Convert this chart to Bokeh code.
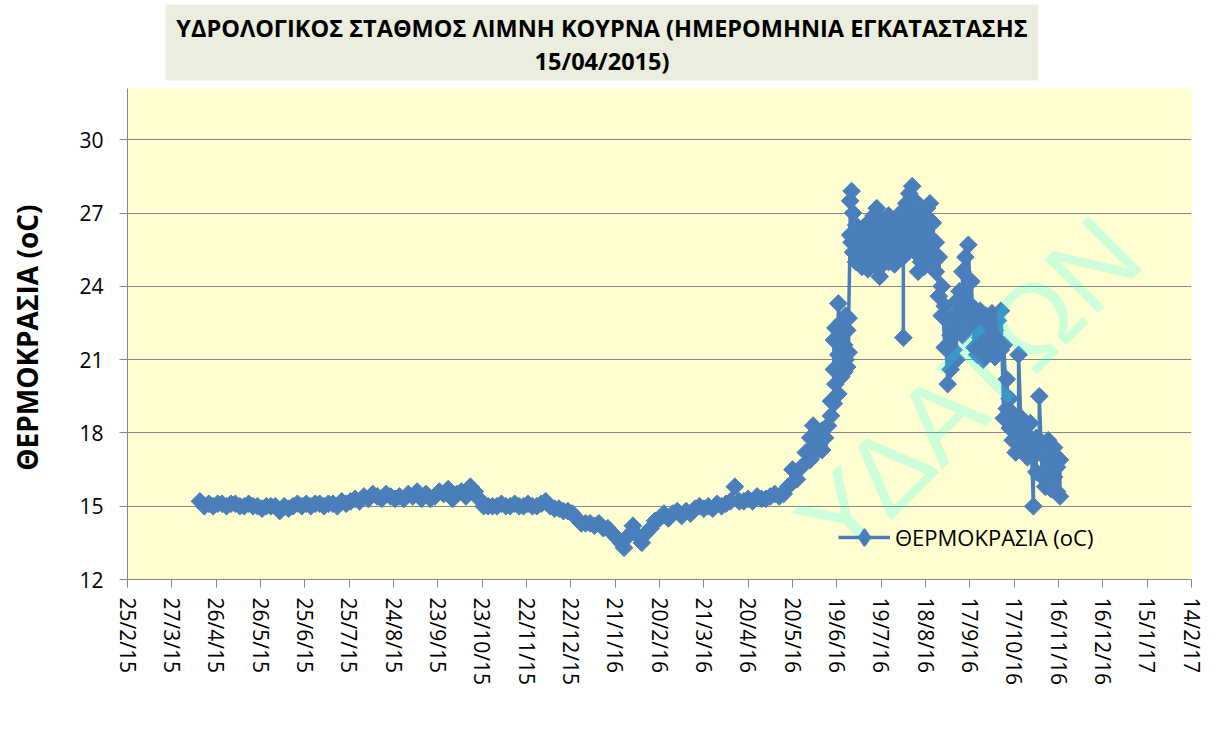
import datetime as dt
from math import radians

from bokeh.plotting import figure
from bokeh.layouts import column
from bokeh.models import (Range1d, FixedTicker, Legend, LegendItem, Label,
                          ColumnDataSource)
from bokeh.core.properties import value
from bokeh.embed import file_html
from bokeh.resources import INLINE

# ---------------- texts ----------------
title_lines = ["ΥΔΡΟΛΟΓΙΚΟΣ ΣΤΑΘΜΟΣ ΛΙΜΝΗ ΚΟΥΡΝΑ (ΗΜΕΡΟΜΗΝΙΑ ΕΓΚΑΤΑΣΤΑΣΗΣ",
               "15/04/2015)"]
y_label = "ΘΕΡΜΟΚΡΑΣΙΑ  (oC)"
series_name = "ΘΕΡΜΟΚΡΑΣΙΑ (oC)"
watermark = "ΥΔΑΤΩΝ"

x_tick_labels = ["25/2/15", "27/3/15", "26/4/15", "26/5/15", "25/6/15", "25/7/15",
                 "24/8/15", "23/9/15", "23/10/15", "22/11/15", "22/12/15", "21/1/16",
                 "20/2/16", "21/3/16", "20/4/16", "20/5/16", "19/6/16", "19/7/16",
                 "18/8/16", "17/9/16", "17/10/16", "16/11/16", "16/12/16", "15/1/17",
                 "14/2/17"]
y_ticks = [12, 15, 18, 21, 24, 27, 30]
y_min, y_max = 12, 32.1

# ---------------- data ----------------
dates_2015 = [
    "2015-04-15", "2015-04-18", "2015-04-21", "2015-04-24", "2015-04-27", "2015-04-30",
    "2015-05-03", "2015-05-06", "2015-05-09", "2015-05-12", "2015-05-15", "2015-05-18", "2015-05-21", "2015-05-24", "2015-05-27", "2015-05-30",
    "2015-06-02", "2015-06-05", "2015-06-08", "2015-06-11", "2015-06-14", "2015-06-17", "2015-06-20", "2015-06-23", "2015-06-26", "2015-06-29",
    "2015-07-02", "2015-07-05", "2015-07-08", "2015-07-11", "2015-07-14", "2015-07-17", "2015-07-20", "2015-07-23", "2015-07-26", "2015-07-29",
    "2015-08-01", "2015-08-04", "2015-08-07", "2015-08-10", "2015-08-13", "2015-08-16", "2015-08-19", "2015-08-22", "2015-08-25", "2015-08-28", "2015-08-31",
    "2015-09-03", "2015-09-06", "2015-09-09", "2015-09-12", "2015-09-15", "2015-09-18", "2015-09-21", "2015-09-24", "2015-09-27", "2015-09-30",
    "2015-10-03", "2015-10-06", "2015-10-09", "2015-10-12", "2015-10-15", "2015-10-18", "2015-10-21", "2015-10-24", "2015-10-27", "2015-10-30",
    "2015-11-02", "2015-11-05", "2015-11-08", "2015-11-11", "2015-11-14", "2015-11-17", "2015-11-20", "2015-11-23", "2015-11-26", "2015-11-29",
    "2015-12-02", "2015-12-05", "2015-12-08", "2015-12-11", "2015-12-14", "2015-12-17", "2015-12-20", "2015-12-23", "2015-12-26", "2015-12-29",
]
temps_2015 = [
    15.2, 15.0, 15.1, 15.0, 15.1, 15.1,
    15.0, 15.1, 15.1, 15.0, 15.0, 15.1, 15.0, 15.0, 14.9, 15.0,
    15.0, 15.0, 14.8, 15.0, 14.9, 15.0, 15.1, 15.0, 15.1, 15.0,
    15.1, 15.1, 15.0, 15.1, 15.1, 15.0, 15.2, 15.1, 15.2, 15.3,
    15.2, 15.4, 15.3, 15.5, 15.4, 15.3, 15.5, 15.4, 15.3, 15.4, 15.3,
    15.5, 15.4, 15.6, 15.3, 15.5, 15.3, 15.4, 15.6, 15.5, 15.7,
    15.3, 15.5, 15.6, 15.4, 15.8, 15.6, 15.3, 15.0, 15.0, 15.0,
    15.0, 15.1, 15.0, 15.0, 15.1, 15.0, 15.0, 15.1, 15.0, 15.0,
    15.1, 15.2, 15.0, 14.9, 14.9, 14.8, 14.8, 14.7, 14.5, 14.3,
]

dates_2016_spring = [
    "2016-01-01", "2016-01-04", "2016-01-07", "2016-01-10", "2016-01-13", "2016-01-16", "2016-01-19", "2016-01-22", "2016-01-25", "2016-01-27", "2016-01-30",
    "2016-02-02", "2016-02-05", "2016-02-08", "2016-02-11", "2016-02-14", "2016-02-17", "2016-02-20", "2016-02-23", "2016-02-26", "2016-02-29",
    "2016-03-03", "2016-03-06", "2016-03-09", "2016-03-12", "2016-03-15", "2016-03-18", "2016-03-21", "2016-03-24", "2016-03-27", "2016-03-30",
    "2016-04-02", "2016-04-05", "2016-04-08", "2016-04-11", "2016-04-14", "2016-04-17", "2016-04-20", "2016-04-23", "2016-04-26", "2016-04-29",
    "2016-05-02", "2016-05-05", "2016-05-08", "2016-05-11", "2016-05-14", "2016-05-17", "2016-05-20", "2016-05-23", "2016-05-26", "2016-05-29",
    "2016-06-01", "2016-06-01", "2016-06-03", "2016-06-03", "2016-06-05", "2016-06-05", "2016-06-07", "2016-06-09", "2016-06-09", "2016-06-11", "2016-06-13", "2016-06-15", "2016-06-15",
]
temps_2016_spring = [
    14.3, 14.3, 14.2, 14.3, 14.1, 14.1, 13.9, 13.7, 13.5, 13.3, 13.8,
    14.2, 13.8, 13.5, 13.9, 14.1, 14.4, 14.5, 14.7, 14.5, 14.7,
    14.8, 14.6, 14.8, 14.7, 14.9, 15.0, 14.9, 15.0, 14.9, 15.1,
    15.0, 15.1, 15.2, 15.8, 15.2, 15.2, 15.3, 15.2, 15.4, 15.3,
    15.3, 15.4, 15.5, 15.4, 15.5, 15.8, 16.5, 16.1, 16.6, 17.2,
    16.9, 17.8, 17.4, 18.3, 17.2, 18.0, 17.5, 17.3, 18.1, 17.8, 18.3, 18.7, 19.3,
]

dates_2016_summer = [
    "2016-06-17", "2016-06-17", "2016-06-17", "2016-06-18", "2016-06-18",
    "2016-06-20", "2016-06-20", "2016-06-20", "2016-06-22", "2016-06-22",
    "2016-06-23", "2016-06-23", "2016-06-24", "2016-06-24", "2016-06-25", "2016-06-25",
    "2016-06-26", "2016-06-26", "2016-06-27", "2016-06-27", "2016-06-28", "2016-06-28",
    "2016-06-29", "2016-06-29", "2016-06-30", "2016-06-30",
    "2016-07-02", "2016-07-02", "2016-07-04", "2016-07-04", "2016-07-06", "2016-07-06",
    "2016-07-08", "2016-07-08", "2016-07-10", "2016-07-10", "2016-07-12", "2016-07-12",
    "2016-07-14", "2016-07-14", "2016-07-16", "2016-07-16", "2016-07-18", "2016-07-18",
    "2016-07-20", "2016-07-20", "2016-07-22", "2016-07-22", "2016-07-24", "2016-07-24",
    "2016-07-26", "2016-07-26", "2016-07-28", "2016-07-28", "2016-07-30", "2016-07-30",
    "2016-08-01", "2016-08-01", "2016-08-03", "2016-08-03", "2016-08-03",
    "2016-08-05", "2016-08-05", "2016-08-07", "2016-08-07", "2016-08-09", "2016-08-09",
    "2016-08-11", "2016-08-11", "2016-08-13", "2016-08-13", "2016-08-15", "2016-08-15",
    "2016-08-17", "2016-08-17", "2016-08-19", "2016-08-19", "2016-08-21", "2016-08-21",
    "2016-08-23", "2016-08-23", "2016-08-25", "2016-08-25", "2016-08-27", "2016-08-27",
    "2016-08-29", "2016-08-29", "2016-08-31", "2016-08-31",
    "2016-09-02", "2016-09-02", "2016-09-04", "2016-09-04", "2016-09-06", "2016-09-06",
    "2016-09-08", "2016-09-08", "2016-09-10", "2016-09-10", "2016-09-12", "2016-09-12",
    "2016-09-14", "2016-09-14", "2016-09-16", "2016-09-16", "2016-09-18", "2016-09-18",
    "2016-09-20", "2016-09-20", "2016-09-22", "2016-09-22", "2016-09-24", "2016-09-24",
    "2016-09-26", "2016-09-26", "2016-09-28", "2016-09-28", "2016-09-30", "2016-09-30",
    "2016-10-02", "2016-10-02", "2016-10-04", "2016-10-04", "2016-10-06", "2016-10-06",
    "2016-10-08", "2016-10-08", "2016-10-10", "2016-10-10", "2016-10-12", "2016-10-12",
    "2016-10-14", "2016-10-14", "2016-10-16", "2016-10-16", "2016-10-18", "2016-10-18",
    "2016-10-20", "2016-10-20", "2016-10-22", "2016-10-22", "2016-10-24", "2016-10-24",
    "2016-10-26", "2016-10-26", "2016-10-28", "2016-10-28", "2016-10-30", "2016-10-30",
    "2016-11-01", "2016-11-01", "2016-11-03", "2016-11-03", "2016-11-05", "2016-11-05",
    "2016-11-07", "2016-11-07", "2016-11-09", "2016-11-09", "2016-11-11", "2016-11-11",
    "2016-11-13", "2016-11-13", "2016-11-15", "2016-11-15", "2016-11-17", "2016-11-17",
]
temps_2016_summer = [
    19.2, 20.6, 21.8, 20.0, 22.3,
    19.6, 21.2, 23.3, 20.3, 22.0,
    20.9, 22.6, 20.5, 21.6, 21.0, 22.8,
    20.7, 22.2, 21.3, 22.7, 26.1, 27.5,
    25.8, 27.9, 25.4, 27.0,
    25.0, 26.5, 25.3, 26.2, 24.8, 26.0,
    25.0, 26.4, 24.7, 26.6, 25.2, 26.1,
    25.5, 26.9, 24.8, 27.2, 24.4, 26.3,
    24.9, 26.7, 25.3, 26.5, 25.0, 26.9,
    25.6, 26.4, 24.9, 26.2, 25.4, 26.7,
    25.8, 27.0, 25.2, 21.9, 26.5,
    26.2, 27.4, 25.6, 27.8, 26.0, 28.1,
    25.4, 27.5, 24.6, 26.8, 25.0, 27.0,
    24.8, 26.5, 25.5, 27.2, 26.0, 27.4,
    25.2, 26.6, 24.6, 25.8, 23.6, 25.2,
    22.8, 24.0, 21.5, 23.2,
    20.0, 22.6, 20.6, 22.0, 21.4, 22.8,
    21.0, 23.4, 22.4, 23.8, 22.0, 24.6,
    23.0, 25.2, 22.8, 25.7, 22.4, 24.2,
    21.5, 23.1, 21.2, 22.6, 21.9, 23.0,
    21.0, 22.4, 21.6, 22.8, 21.3, 22.5,
    21.8, 22.9, 21.1, 22.2, 21.6, 22.6,
    21.4, 23.0, 18.6, 21.6, 19.0, 20.2,
    18.2, 19.4, 17.7, 18.8, 17.2, 18.5,
    18.0, 21.2, 17.5, 18.6, 17.4, 18.2,
    17.0, 17.9, 17.6, 18.4, 15.0, 17.2,
    16.4, 17.8, 17.2, 19.5, 16.2, 17.6,
    15.8, 17.0, 16.5, 17.7, 15.7, 16.9,
    16.2, 17.4, 15.6, 16.6, 16.9, 15.4,
]

# ---------------- derived positions ----------------
def parse_tick(s):
    return dt.datetime.strptime(s, "%d/%m/%y")

origin = parse_tick(x_tick_labels[0])
tick_days = [(parse_tick(s) - origin).days for s in x_tick_labels]

all_dates = dates_2015 + dates_2016_spring + dates_2016_summer
all_temps = temps_2015 + temps_2016_spring + temps_2016_summer
days = [(dt.datetime.strptime(d, "%Y-%m-%d") - origin).days for d in all_dates]
src = ColumnDataSource(dict(day=days, temp=all_temps))

# ---------------- styling ----------------
FONT = "Open Sans"
BLUE = "#4A7EBB"
GREY = "#868686"
W = 1206
FRAME_L, FRAME_W = 127, 1064

# header with the title box (its frame is aligned with the chart frame by the column,
# so its x range is expressed in page pixels)
hdr_h = 84
hdr = figure(width=W, height=hdr_h, output_backend="svg", toolbar_location=None,
             title=None,
             x_range=Range1d(FRAME_L, FRAME_L + FRAME_W), y_range=Range1d(hdr_h, 0),
             x_axis_location=None, y_axis_location=None, min_border=0,
             outline_line_color=None, background_fill_color="white",
             border_fill_color="white")
hdr.grid.visible = False
hdr.quad(left=[165], right=[1038], top=[4], bottom=[80],
         fill_color="#EBEEDE", line_color=None)
hdr.text(x=[601.5, 601.5], y=[27, 60], text=title_lines,
         text_align="center", text_baseline="middle",
         text_font=value(FONT), text_font_style="bold",
         text_font_size="23.5px", text_color="black")

# main chart
p = figure(width=W, height=646, output_backend="svg", toolbar_location=None,
           x_range=Range1d(tick_days[0], tick_days[-1]), y_range=Range1d(y_min, y_max),
           min_border_left=FRAME_L, min_border_right=W - FRAME_L - FRAME_W,
           min_border_top=4, min_border_bottom=151,
           background_fill_color="#FFFFD1", border_fill_color="white",
           outline_line_color=None)

line_r = p.line("day", "temp", source=src, line_color=BLUE, line_width=3.5)
pts_r = p.scatter("day", "temp", source=src, marker="square", size=12.5, angle=radians(45),
                  fill_color=BLUE, line_color=BLUE)
# hidden diamond renderer used only as the legend swatch
swatch_r = p.scatter("day", "temp", source=src, marker="diamond", fill_color=BLUE,
                     line_color=BLUE, line_width=2, visible=False)

for ax in (p.xaxis[0], p.yaxis[0]):
    ax.axis_line_color = GREY
    ax.major_tick_line_color = GREY
    ax.major_tick_out = 8
    ax.major_tick_in = 0
    ax.minor_tick_line_color = None
    ax.major_label_text_font = FONT
    ax.major_label_text_font_size = "21px"
    ax.major_label_text_color = "black"

p.xaxis.ticker = FixedTicker(ticks=tick_days)
p.xaxis.major_label_overrides = {d: s for d, s in zip(tick_days, x_tick_labels)}
p.xaxis.major_label_orientation = "vertical"
p.xaxis.major_label_standoff = 10

p.yaxis.ticker = FixedTicker(ticks=y_ticks)
p.yaxis.major_label_standoff = 16
p.yaxis.axis_label = y_label
p.yaxis.axis_label_text_font = FONT
p.yaxis.axis_label_text_font_style = "bold"
p.yaxis.axis_label_text_font_size = "28px"
p.yaxis.axis_label_text_color = "black"
p.yaxis.axis_label_standoff = 30

p.xgrid.visible = False
p.ygrid.ticker = FixedTicker(ticks=y_ticks)
p.ygrid.grid_line_color = GREY
p.ygrid.grid_line_width = 1

legend = Legend(items=[LegendItem(label=series_name, renderers=[line_r, swatch_r])],
                location=(711, 21), orientation="vertical", click_policy="none",
                background_fill_alpha=0, border_line_alpha=0,
                padding=0, margin=0, spacing=0,
                glyph_width=52, glyph_height=42, label_standoff=5,
                label_text_font=FONT, label_text_font_size="22px",
                label_text_color="black")
p.add_layout(legend)

# faint diagonal watermark
p.add_layout(Label(x=841, y=191, x_units="screen", y_units="screen", text=watermark,
                   angle=radians(45), text_align="center", text_baseline="middle",
                   text_font="Liberation Sans", text_font_size="110px",
                   text_color="#00FFFF", text_alpha=0.2, level="overlay"))

layout = column(hdr, p, spacing=0)
open("out.html", "w").write(file_html(layout, INLINE))
